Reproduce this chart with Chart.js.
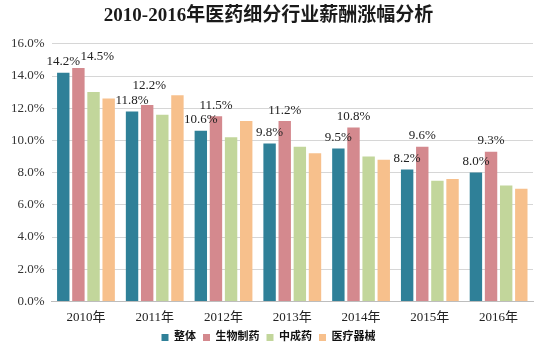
<!DOCTYPE html>
<html>
<head>
<meta charset="utf-8">
<script src="https://cdn.jsdelivr.net/npm/chart.js@4.4.1/dist/chart.umd.min.js"></script>
<style>
  html, body { margin: 0; padding: 0; background: #fff; }
  #wrap { width: 551px; height: 342px; }
</style>
</head>
<body>
<div id="wrap"><canvas id="myChart"></canvas></div>
<script>
const years = ['2010年', '2011年', '2012年', '2013年', '2014年', '2015年', '2016年']
const overall = [14.2, 11.8, 10.6, 9.8, 9.5, 8.2, 8.0]
const biopharma = [14.5, 12.2, 11.5, 11.2, 10.8, 9.6, 9.3]
const tcm = [13.0, 11.6, 10.2, 9.6, 9.0, 7.5, 7.2]
const devices = [12.6, 12.8, 11.2, 9.2, 8.8, 7.6, 7.0]

const serif = "'Liberation Serif', 'Noto Sans CJK SC', serif"

// labels on top of the first two series, a couple nudged like in the original
const valueLabels = {
    id: 'valueLabels',
    afterDatasetsDraw(chart) {
        const ctx = chart.ctx
        const nudge = { '1-0': [19, 0], '1-1': [2, 8] }
        ctx.save()
        ctx.font = '13px ' + serif
        ctx.fillStyle = '#222'
        ctx.textAlign = 'center'
        ctx.textBaseline = 'middle'
        ;[0, 1].forEach(function(di) {
            const meta = chart.getDatasetMeta(di)
            meta.data.forEach(function(bar, i) {
                const n = nudge[di + '-' + i] || [0, 0]
                const v = chart.data.datasets[di].data[i]
                ctx.fillText(v.toFixed(1) + '%', bar.x + n[0], bar.y - 11 - n[1])
            })
        })
        ctx.restore()
    }
}

const data = {
    labels: years,
    datasets: [
        { label: '整体', data: overall, backgroundColor: '#2f8098' },
        { label: '生物制药', data: biopharma, backgroundColor: '#d4898e' },
        { label: '中成药', data: tcm, backgroundColor: '#c2d69b' },
        { label: '医疗器械', data: devices, backgroundColor: '#f7c08c' }
    ]
}

const config = {
    type: 'bar',
    data: data,
    options: {
        responsive: true,
        maintainAspectRatio: false,
        animation: false,
        categoryPercentage: 0.88,
        barPercentage: 0.82,
        layout: { padding: { left: 4, right: 18, top: 0, bottom: -11 } },
        plugins: {
            title: {
                display: true,
                text: '2010-2016年医药细分行业薪酬涨幅分析',
                color: '#1a1a1a',
                font: { family: serif, size: 19, weight: 'bold' },
                padding: { top: 5, bottom: 16 }
            },
            legend: {
                position: 'bottom',
                labels: {
                    boxWidth: 7,
                    boxHeight: 7,
                    padding: 7,
                    color: '#111',
                    font: { family: serif, size: 11, weight: 'bold' }
                }
            },
            tooltip: { enabled: false }
        },
        scales: {
            x: {
                grid: { display: false },
                border: { color: '#bdbdbd' },
                ticks: { color: '#222', padding: 0, font: { family: serif, size: 13 } }
            },
            y: {
                min: 0,
                max: 16,
                ticks: {
                    stepSize: 2,
                    padding: 7,
                    color: '#333',
                    font: { family: serif, size: 13 },
                    callback: function(v) { return v.toFixed(1) + '%' }
                },
                grid: { color: '#d6d6d6', drawTicks: false },
                border: { display: false }
            }
        }
    },
    plugins: [valueLabels]
}

let myChart = new Chart(document.getElementById('myChart'), config)
</script>
</body>
</html>
